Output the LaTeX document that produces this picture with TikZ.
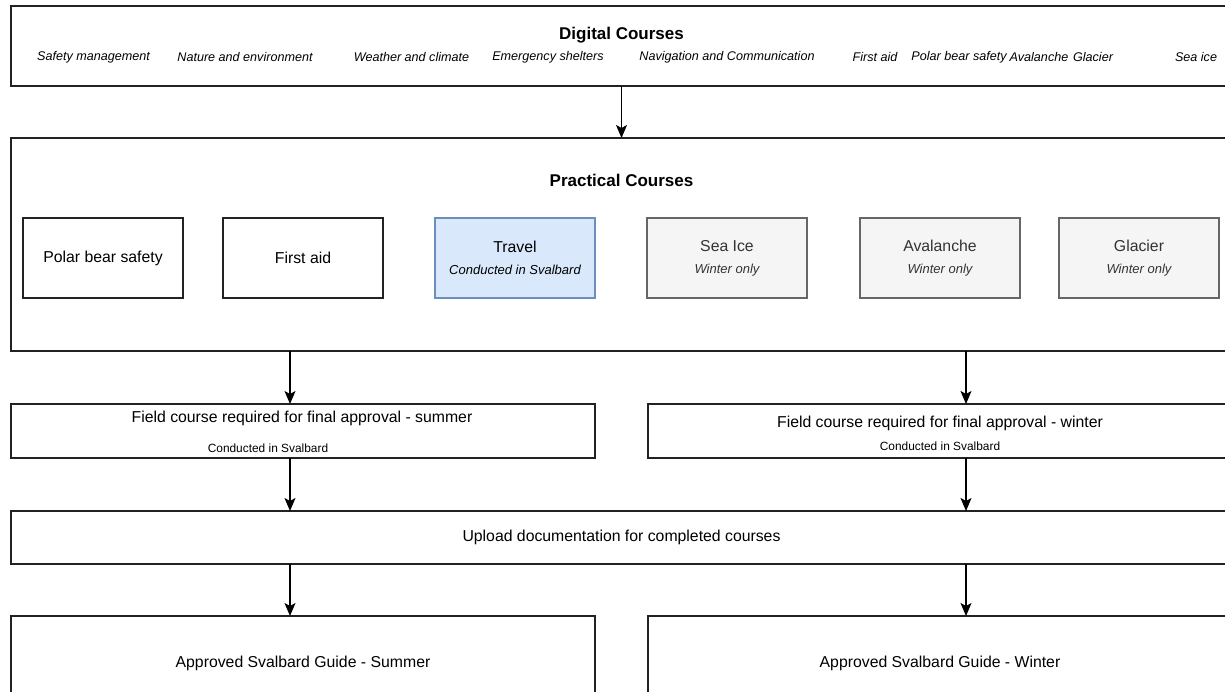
\documentclass[tikz,border=0pt]{standalone}
\usepackage{fontspec}
\setmainfont{Liberation Sans}
\usetikzlibrary{arrows.meta}
\newcommand{\fsz}[2]{\fontsize{#1}{#2}\selectfont}
\definecolor{bluefill}{HTML}{DAE8FC}
\definecolor{blueline}{HTML}{6C8EBF}
\definecolor{grayfill}{HTML}{F5F5F5}
\definecolor{grayline}{HTML}{666666}
\definecolor{graytext}{HTML}{333333}
\definecolor{edge}{HTML}{222222}
\tikzset{
  basebox/.style={draw=edge, line width=1.2pt, fill=white, inner sep=0pt, outer sep=0pt, align=center, font=\fsz{15.8}{22}},
  innerbox/.style={basebox, minimum width=160pt, minimum height=80pt},
  plainbox/.style={innerbox},
  bluebox/.style={innerbox, fill=bluefill, draw=blueline},
  graybox/.style={innerbox, fill=grayfill, draw=grayline, text=graytext},
  widebox/.style={basebox, minimum width=1221pt},
  halfbox/.style={basebox, minimum width=584pt},
  item/.style={font=\fsz{12.6}{15}\itshape, inner sep=0pt},
  ttl/.style={font=\fsz{17}{20}\bfseries, inner sep=0pt},
  txt/.style={font=\fsz{15.8}{19}, inner sep=0pt},
  smalltxt/.style={font=\fsz{11.9}{14}, inner sep=0pt},
  arr/.style={-{Stealth[length=13pt,width=11pt,inset=3pt]}, line width=1.2pt, draw=black}
}
\begin{document}
\begin{tikzpicture}[x=1pt,y=-1pt]
\useasboundingbox (0,0) rectangle (1225,692);
\clip (0,0) rectangle (1225,692);
\fill[white] (0,0) rectangle (1225,692);

% Digital courses
\node[widebox, minimum height=80pt] (digital) at (621.5,46) {};
\node[ttl] (dtitle) at (621.5,35) {Digital Courses};
\node[item] (i1) at (93.5,57) {Safety management};
\node[item] (i2) at (245,57) {Nature and environment};
\node[item] (i3) at (411.5,57) {Weather and climate};
\node[item] (i4) at (548,57) {Emergency shelters};
\node[item] (i5) at (727,57) {Navigation and Communication};
\node[item] (i6) at (875,57) {First aid};
\node[item] (i7) at (959,57) {Polar bear safety};
\node[item] (i8) at (1039,57) {Avalanche};
\node[item] (i9) at (1093,57) {Glacier};
\node[item] (i10) at (1196,57) {Sea ice};

% Practical courses
\node[widebox, minimum height=213pt] (practical) at (621.5,244.5) {};
\node[ttl] (ptitle) at (621.5,180) {Practical Courses};
\node[plainbox] (pbs) at (103,258) {Polar bear safety};
\node[plainbox] (fa) at (303,258) {First aid};
\node[bluebox] (trav) at (515,258) {Travel\\{\fsz{13}{22}\itshape Conducted in Svalbard}};
\node[graybox] (sea) at (727,258) {Sea Ice\\{\fsz{13}{22}\itshape Winter only}};
\node[graybox] (aval) at (940,258) {Avalanche\\{\fsz{13}{22}\itshape Winter only}};
\node[graybox] (glac) at (1139,258) {Glacier\\{\fsz{13}{22}\itshape Winter only}};

% Field courses
\node[halfbox, minimum height=54pt] (fieldS) at (303,431) {};
\node[txt] (fieldSt) at (302,418) {Field course required for final approval - summer};
\node[smalltxt] (fieldSs) at (268,448) {Conducted in Svalbard};
\node[halfbox, minimum height=54pt] (fieldW) at (940,431) {};
\node[txt] (fieldWt) at (940,423) {Field course required for final approval - winter};
\node[smalltxt] (fieldWs) at (940,446) {Conducted in Svalbard};

% Upload
\node[widebox, minimum height=53pt] (upload) at (621.5,537.5) {Upload documentation for completed courses};

% Approved
\node[halfbox, minimum height=94pt] (appS) at (303,663) {Approved Svalbard Guide - Summer};
\node[halfbox, minimum height=94pt] (appW) at (940,663) {Approved Svalbard Guide - Winter};

% connectors
\coordinate (L) at (290,0);
\coordinate (R) at (966,0);
\draw[arr] (digital.south) -- (practical.north);
\draw[arr] (practical.south -| L) -- (fieldS.north -| L);
\draw[arr] (practical.south -| R) -- (fieldW.north -| R);
\draw[arr] (fieldS.south -| L) -- (upload.north -| L);
\draw[arr] (fieldW.south -| R) -- (upload.north -| R);
\draw[arr] (upload.south -| L) -- (appS.north -| L);
\draw[arr] (upload.south -| R) -- (appW.north -| R);
\end{tikzpicture}
\end{document}
